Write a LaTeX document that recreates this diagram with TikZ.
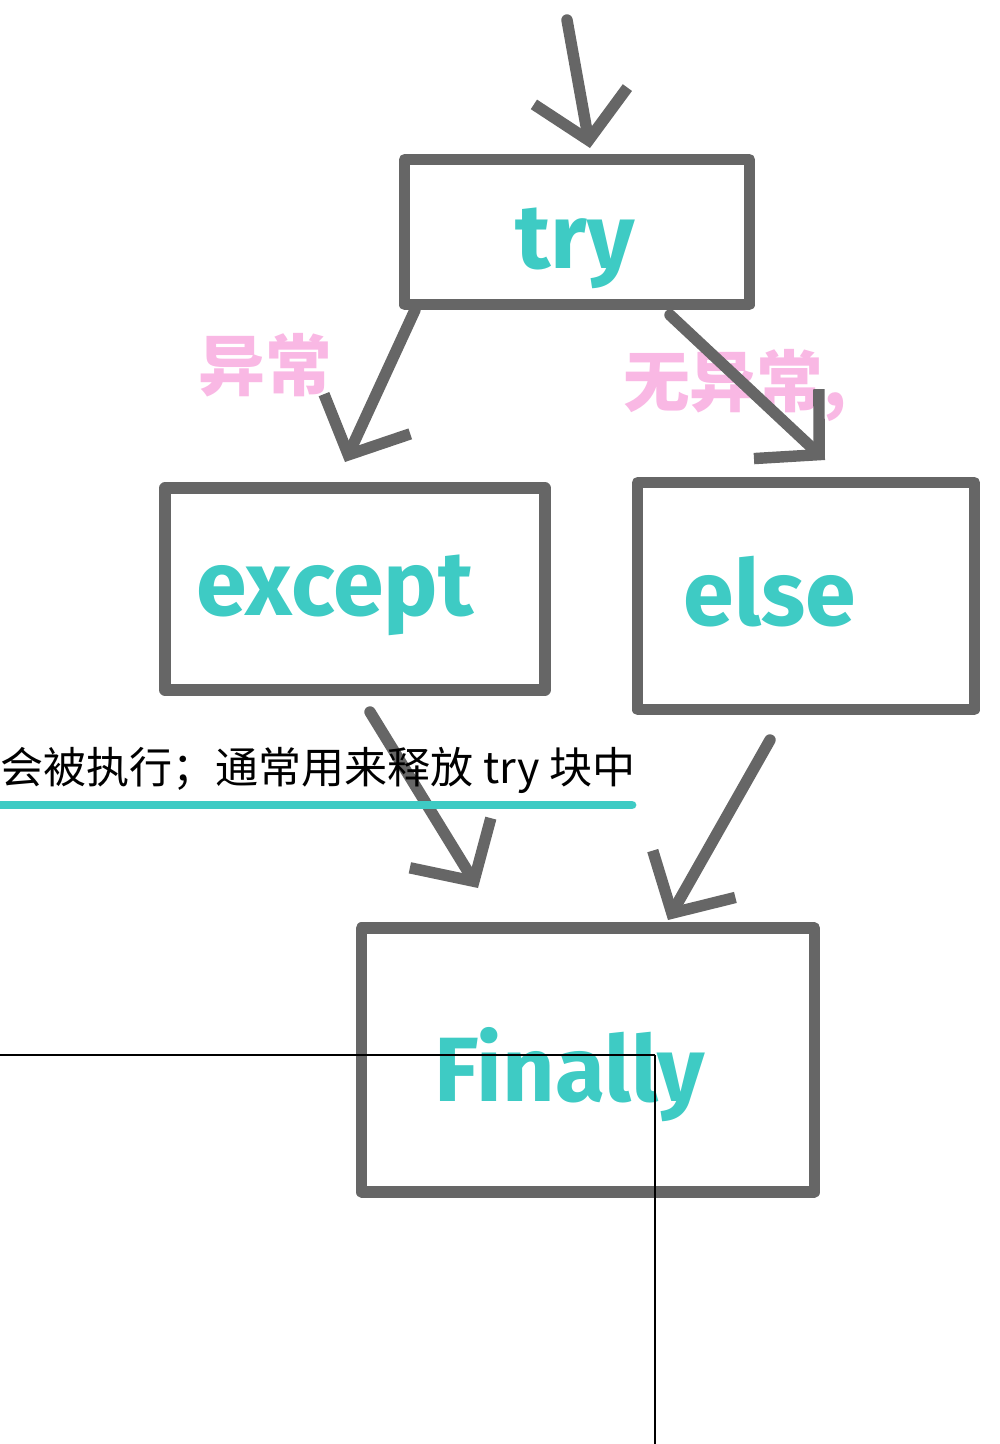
\documentclass[tikz,border=0pt]{standalone}
\usepackage{fontspec}
\setmainfont{Fira Sans}
\newfontfamily\cjk{Noto Sans CJK SC}
\usetikzlibrary{arrows.meta,positioning}
\definecolor{pen}{HTML}{666666}
\definecolor{teal}{HTML}{3ECBC4}
\definecolor{pink}{HTML}{F9B8E4}
\tikzset{
  box/.style = {draw = pen, line width = 6.5pt, line join = round, inner sep = 0pt},
  word/.style = {text = teal, font = \fontsize{52}{52}\selectfont\bfseries},
  note/.style = {text = pink, font = \cjk\fontsize{38}{38}\selectfont\bfseries},
  arr/.style = {draw = pen, line width = 6.5pt, line cap = round,
                -{Straight Barb[length=9mm, width=19mm, line width=6.5pt]}}
}
\begin{document}
\begin{tikzpicture}[x=0.02cm, y=-0.02cm]
    \useasboundingbox (0,0) rectangle (1000,1444);

    % boxes
    \node[box, minimum width=6.9cm, minimum height=2.9cm] (try) at (577,232) {};
    \node[box, minimum width=7.6cm, minimum height=4.04cm] (except) at (355,589) {};
    \node[box, minimum width=6.74cm, minimum height=4.54cm] (else) at (806,596) {};
    \node[box, minimum width=9.06cm, minimum height=5.28cm] (finally) at (588,1060) {};

    % words
    \node[word] (tryw) at (575,248) {try};
    \node[word] (exceptw) at (335,595) {except};
    \node[word] (elsew) at (770,592) {else};
    \node[word] (finallyw) at (570,1075) {Finally};

    % labels on the arrows
    \node[note] (yc) at (265,365) {异常};
    \node[note] (wyc) at (735,385) {无异常,};

    % arrow ends
    \coordinate (in) at (567,20);
    \coordinate (intop) at (590,148);
    \coordinate (exs) at (415,310);
    \coordinate (exe) at (345,462);
    \coordinate (els) at (670,315);
    \coordinate (ele) at (825,460);
    \coordinate (fa) at (370,712);
    \coordinate (fae) at (478,888);
    \coordinate (fb) at (770,740);
    \coordinate (fbe) at (668,920);

    \draw[arr] (in) -- (intop);
    \draw[arr] (exs) -- (exe);
    \draw[arr] (els) -- (ele);
    \draw[arr] (fa) -- (fae);
    \draw[arr] (fb) -- (fbe);

    % text line behind
    \node[anchor=west, inner sep=0pt, font=\cjk\fontsize{24.5}{24.5}\selectfont] (line) at (0,770) {会被执行；通常用来释放 try 块中};
    \coordinate (ul1) at (0,805);
    \coordinate (ul2) at (632,805);
    \draw[teal, line width=5pt, line cap=round] (ul1) -- (ul2);

    % thin lines
    \coordinate (h1) at (0,1055);
    \coordinate (h2) at (655,1055);
    \coordinate (v2) at (655,1444);
    \draw[black, line width=0.8pt] (h1) -- (h2);
    \draw[black, line width=0.8pt] (h2) -- (v2);
\end{tikzpicture}
\end{document}
